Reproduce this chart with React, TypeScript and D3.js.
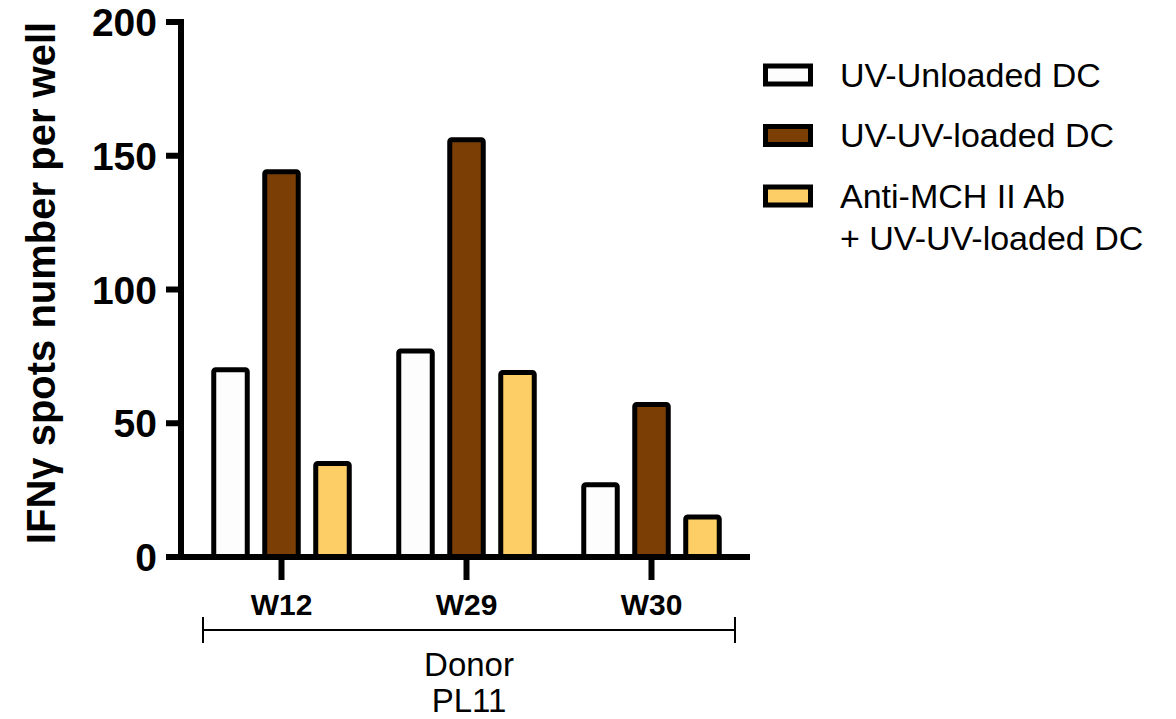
import React from "react";
import * as d3 from "d3";

const groups = ["W12", "W29", "W30"];
const series = ["UV-Unloaded DC", "UV-UV-loaded DC", "Anti-MCH II Ab + UV-UV-loaded DC"];
const legendLines = [["UV-Unloaded DC"], ["UV-UV-loaded DC"], ["Anti-MCH II Ab", "+ UV-UV-loaded DC"]];
const unloaded = [70, 77, 27];
const uvLoaded = [144, 156, 57];
const antiMch = [35, 69, 15];
const colors = ["#FDFDFD", "#7B3F06", "#FDCD66"];
const yTicks = [0, 50, 100, 150, 200];

export default function App() {
  const W = 1176, H = 719;
  const y = d3.scaleLinear().domain([0, 200]).range([557, 22]);
  const x = d3.scaleBand().domain(groups).range([189, 744]).padding(0);
  const xi = d3.scaleBand().domain(series).range([-67.75, 67.75]).paddingInner(0.343);
  const values = [unloaded, uvLoaded, antiMch];
  const font = "Arial, 'Liberation Sans', sans-serif";
  return (
    <svg width={W} height={H} style={{ position: "absolute", left: 0, top: 0 }} fontFamily={font}>
      <rect width={W} height={H} fill="#fff" />
      {groups.map((g, gi) =>
        series.map((s, si) => {
          const cx = (x(g) as number) + x.bandwidth() / 2 + (xi(s) as number);
          const v = values[si][gi];
          return (
            <rect key={g + s} x={cx} y={y(v)} width={xi.bandwidth()} height={y(0) - y(v)}
              fill={colors[si]} stroke="#000" strokeWidth={5} rx={2} />
          );
        })
      )}
      {/* axes */}
      <line x1={181} x2={181} y1={19} y2={560} stroke="#000" strokeWidth={6} />
      <line x1={178} x2={750} y1={557} y2={557} stroke="#000" strokeWidth={6} />
      {yTicks.map((t) => (
        <g key={t}>
          <line x1={166} x2={181} y1={y(t)} y2={y(t)} stroke="#000" strokeWidth={6} />
          <text x={157} y={y(t)} dy="0.36em" textAnchor="end" fontSize={39} fontWeight="bold">{t}</text>
        </g>
      ))}
      {groups.map((g) => {
        const cx = (x(g) as number) + x.bandwidth() / 2;
        return (
          <g key={g}>
            <line x1={cx} x2={cx} y1={557} y2={580} stroke="#000" strokeWidth={6} />
            <text x={cx} y={615} textAnchor="middle" fontSize={30} fontWeight="bold">{g}</text>
          </g>
        );
      })}
      <text transform="translate(55,283) rotate(-90)" textAnchor="middle" fontSize={40} fontWeight="bold">
        IFNγ spots number per well
      </text>
      {/* bracket */}
      <line x1={203} x2={735} y1={630} y2={630} stroke="#000" strokeWidth={2} />
      <line x1={203} x2={203} y1={617} y2={643} stroke="#000" strokeWidth={2} />
      <line x1={735} x2={735} y1={617} y2={643} stroke="#000" strokeWidth={2} />
      <text x={469} y={676} textAnchor="middle" fontSize={33}>Donor</text>
      <text x={469} y={712} textAnchor="middle" fontSize={33}>PL11</text>
      {/* legend */}
      {legendLines.map((lines, i) => (
        <g key={i} transform={`translate(0,${75 + i * 60.5})`}>
          <rect x={765.5} y={-9} width={45} height={18} fill={colors[i]} stroke="#000" strokeWidth={5} />
          {lines.map((l, j) => (
            <text key={j} x={840} y={j * 42} dy="0.35em" fontSize={34}>{l}</text>
          ))}
        </g>
      ))}
    </svg>
  );
}
